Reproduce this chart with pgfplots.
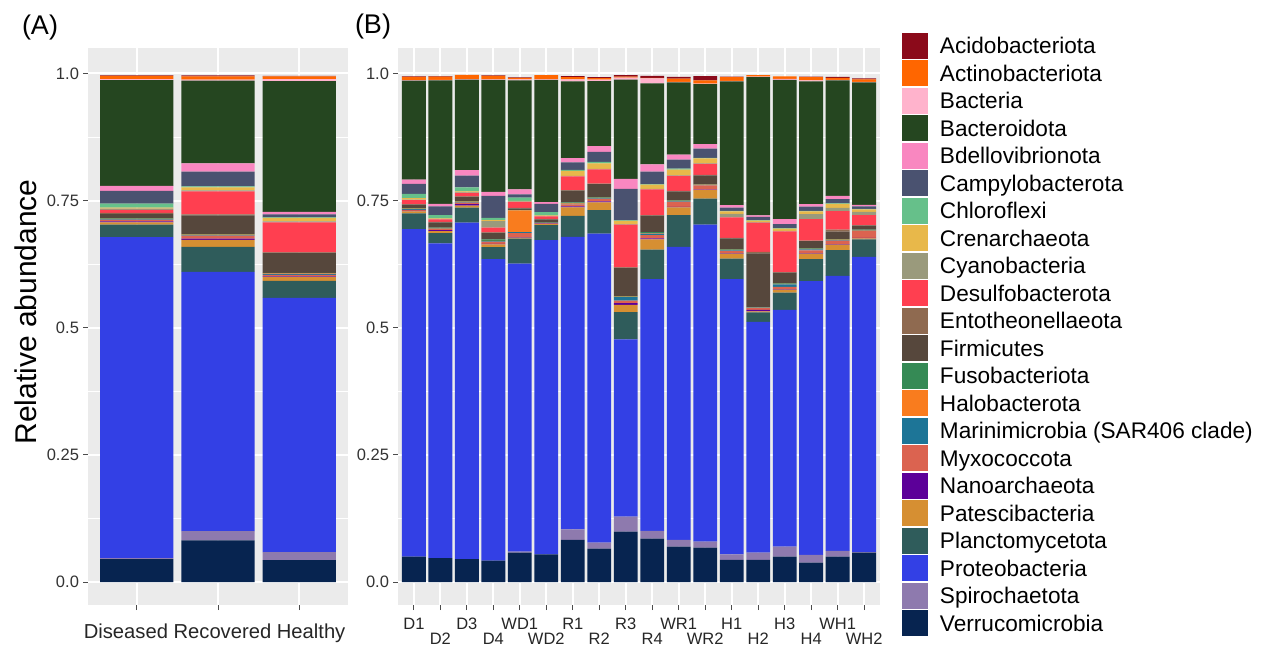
\documentclass[border=0pt]{standalone}
\usepackage{fontspec}
\setmainfont{Liberation Sans}
\usepackage{pgfplots}
\usepackage{pgfplotstable}
\pgfplotsset{compat=1.18}

\definecolor{ggbg}{HTML}{EBEBEB}
\definecolor{cAcid}{HTML}{8B0A1A}
\definecolor{cActi}{HTML}{FF6600}
\definecolor{cBact}{HTML}{FFB3CC}
\definecolor{cBacd}{HTML}{254620}
\definecolor{cBdel}{HTML}{F987C0}
\definecolor{cCamp}{HTML}{4A5270}
\definecolor{cChlo}{HTML}{66C08A}
\definecolor{cCren}{HTML}{E8B84A}
\definecolor{cCyan}{HTML}{9A9A7C}
\definecolor{cDesu}{HTML}{FF3F50}
\definecolor{cEnto}{HTML}{8F6A50}
\definecolor{cFirm}{HTML}{56473C}
\definecolor{cFuso}{HTML}{358A55}
\definecolor{cHalo}{HTML}{F97C1E}
\definecolor{cMari}{HTML}{1D7597}
\definecolor{cMyxo}{HTML}{DB6350}
\definecolor{cNano}{HTML}{5C0099}
\definecolor{cPate}{HTML}{D68F32}
\definecolor{cPlan}{HTML}{2F5C5B}
\definecolor{cProt}{HTML}{3340E5}
\definecolor{cSpir}{HTML}{8E7AAE}
\definecolor{cVerr}{HTML}{072450}

% Panel A: 1 Diseased, 2 Recovered, 3 Healthy
\pgfplotstableread{
x Verr Spir Prot Plan Pate Nano Myxo Mari Halo Fuso Firm Ento Desu Cyan Cren Chlo Camp Bdel Bacd Bact Acti Acid
1 0.045 0.002 0.631 0.025 0.004 0.002 0.003 0.001 0.001 0.001 0.009 0.002 0.006 0.002 0.002 0.008 0.025 0.010 0.208 0.002 0.006 0.001
2 0.082 0.018 0.510 0.049 0.014 0.002 0.006 0.001 0.001 0.001 0.037 0.002 0.045 0.002 0.006 0.002 0.029 0.016 0.163 0.002 0.006 0.002
3 0.043 0.016 0.500 0.033 0.008 0.001 0.003 0.002 0.001 0.001 0.039 0.001 0.059 0.002 0.007 0.001 0.006 0.005 0.257 0.004 0.005 0.001
}\dataA

% Panel B: D1 D2 D3 D4 WD1 WD2 R1 R2 R3 R4 WR1 WR2 H1 H2 H3 H4 WH1 WH2
\pgfplotstableread{
x Verr Spir Prot Plan Pate Nano Myxo Mari Halo Fuso Firm Ento Desu Cyan Cren Chlo Camp Bdel Bacd Bact Acti Acid
1 0.050 0.000 0.644 0.031 0.004 0.001 0.002 0.001 0.001 0.001 0.007 0.001 0.008 0.001 0.003 0.008 0.020 0.008 0.195 0.001 0.006 0.001
2 0.047 0.000 0.619 0.020 0.004 0.002 0.002 0.001 0.001 0.001 0.010 0.001 0.005 0.001 0.001 0.0065 0.017 0.005 0.243 0.001 0.006 0.001
3 0.045 0.000 0.6615 0.0295 0.004 0.003 0.003 0.001 0.001 0.001 0.0085 0.001 0.0065 0.001 0.002 0.008 0.023 0.011 0.178 0.001 0.008 0.000
4 0.042 0.000 0.5927 0.024 0.005 0.001 0.004 0.001 0.001 0.003 0.013 0.001 0.009 0.013 0.002 0.0045 0.043 0.008 0.220 0.001 0.007 0.001
5 0.058 0.002 0.566 0.049 0.002 0.001 0.008 0.002 0.0426 0.001 0.003 0.001 0.012 0.001 0.001 0.006 0.0065 0.010 0.214 0.002 0.003 0.001
6 0.0546 0.000 0.6177 0.0295 0.002 0.001 0.001 0.000 0.000 0.001 0.0065 0.001 0.0045 0.001 0.001 0.0065 0.0165 0.003 0.2404 0.001 0.0085 0.000
7 0.083 0.0208 0.575 0.0413 0.0165 0.002 0.004 0.001 0.001 0.002 0.023 0.001 0.027 0.001 0.010 0.002 0.0144 0.0085 0.151 0.004 0.004 0.002
8 0.0658 0.0118 0.6077 0.046 0.015 0.002 0.005 0.001 0.001 0.001 0.026 0.001 0.028 0.001 0.011 0.003 0.0196 0.011 0.128 0.003 0.003 0.002
9 0.0992 0.0295 0.3484 0.0537 0.0143 0.0035 0.005 0.0065 0.001 0.001 0.0556 0.001 0.084 0.001 0.0065 0.001 0.062 0.0196 0.195 0.004 0.002 0.003
10 0.0855 0.015 0.495 0.058 0.0204 0.002 0.006 0.003 0.001 0.002 0.0327 0.001 0.0505 0.001 0.0085 0.001 0.0242 0.0144 0.1594 0.0098 0.001 0.004
11 0.0697 0.0132 0.5763 0.0623 0.015 0.001 0.0098 0.001 0.001 0.001 0.018 0.001 0.0295 0.001 0.011 0.002 0.0177 0.010 0.142 0.001 0.0065 0.003
12 0.0678 0.0118 0.6234 0.051 0.0164 0.001 0.0085 0.001 0.0005 0.0005 0.0177 0.001 0.0216 0.001 0.0098 0.001 0.0183 0.0085 0.118 0.001 0.0065 0.0085
13 0.0436 0.011 0.541 0.0405 0.0098 0.001 0.004 0.001 0.001 0.001 0.0216 0.001 0.0407 0.0065 0.005 0.001 0.0065 0.005 0.2434 0.001 0.007 0.001
14 0.0436 0.0144 0.4538 0.0183 0.002 0.003 0.0035 0.001 0.0005 0.0005 0.1055 0.003 0.0577 0.001 0.003 0.001 0.006 0.003 0.272 0.001 0.003 0.000
15 0.050 0.0196 0.4656 0.034 0.006 0.001 0.004 0.005 0.001 0.001 0.021 0.001 0.0805 0.001 0.004 0.001 0.0079 0.0098 0.2737 0.002 0.005 0.000
16 0.0383 0.0151 0.5383 0.0432 0.011 0.001 0.005 0.002 0.001 0.001 0.0144 0.001 0.0425 0.0098 0.005 0.001 0.0085 0.005 0.2411 0.002 0.0065 0.001
17 0.050 0.0112 0.5409 0.0505 0.011 0.001 0.0065 0.001 0.001 0.001 0.015 0.004 0.036 0.0065 0.0079 0.001 0.0085 0.0065 0.2266 0.001 0.004 0.002
18 0.058 0.001 0.5802 0.0347 0.002 0.001 0.013 0.001 0.001 0.001 0.0079 0.001 0.0196 0.0065 0.005 0.001 0.0045 0.003 0.241 0.001 0.005 0.002
}\dataB

\pgfplotsset{
  ggpanel/.style={
    scale only axis,
    height=278.5pt,
    ybar stacked,
    bar width=0.9,
    ymin=-0.045, ymax=1.05,
    axis background/.style={fill=ggbg},
    axis lines=left,
    axis line style={draw=none,-},
    ytick={0,0.25,0.5,0.75,1},
    yticklabels={0.0,0.25,0.5,0.75,1.0},
    minor ytick={0.125,0.375,0.625,0.875},
    xmajorgrids, ymajorgrids, yminorgrids,
    major grid style={white, line width=1pt},
    minor grid style={white, line width=0.5pt},
    tick align=outside,
    major tick length=2.5pt,
    minor tick length=0pt,
    tick style={draw=black!70, line width=0.5pt},
    yticklabel style={font=\fontsize{8.25}{9}\selectfont, text=black!80, anchor=east, xshift=1.5pt},
  },
}

\begin{document}
\begin{tikzpicture}
\useasboundingbox (0,0) rectangle (631.5pt,332pt);

\node[font=\fontsize{13.5}{15}\selectfont] at (20pt,318pt) {(A)};
\node[font=\fontsize{13.5}{15}\selectfont] at (186.5pt,318.5pt) {(B)};
\node[font=\fontsize{15}{17}\selectfont, rotate=90] at (13pt,176pt) {Relative abundance};
\node[font=\fontsize{10.1}{12}\selectfont, text=black!85] at (107.3pt,15.5pt) {Diseased Recovered Healthy};

\begin{axis}[ggpanel,
  at={(44pt,29.5pt)}, anchor=south west,
  width=130pt,
  xmin=0.4, xmax=3.6,
  xtick={1,2,3},
  xticklabels={},
]
\pgfplotsinvokeforeach{Verr,Spir,Prot,Plan,Pate,Nano,Myxo,Mari,Halo,Fuso,Firm,Ento,Desu,Cyan,Cren,Chlo,Camp,Bdel,Bacd,Bact,Acti,Acid}{
  \addplot[fill=c#1, draw=none] table[x=x, y=#1] {\dataA};
}
\end{axis}

\begin{axis}[ggpanel,
  at={(199pt,29.5pt)}, anchor=south west,
  width=241pt,
  xmin=0.4, xmax=18.6,
  xtick={1,...,18},
  xticklabels={D1,\raisebox{-7.5pt}{D2},D3,\raisebox{-7.5pt}{D4},WD1,\raisebox{-7.5pt}{WD2},R1,\raisebox{-7.5pt}{R2},R3,\raisebox{-7.5pt}{R4},WR1,\raisebox{-7.5pt}{WR2},H1,\raisebox{-7.5pt}{H2},H3,\raisebox{-7.5pt}{H4},WH1,\raisebox{-7.5pt}{WH2}},
  xticklabel style={font=\fontsize{8.25}{9}\selectfont, text=black!85, anchor=north, text height=6pt, text depth=1.5pt, yshift=0pt},
  reverse legend,
  legend cell align=left,
  legend image code/.code={\fill[#1] (0pt,-6.5pt) rectangle (13pt,6.5pt);},
  legend style={at={(1.0456,1.0287)}, anchor=north west, draw=none, fill=none,
    inner sep=0pt, outer sep=0pt, row sep=0pt,
    font=\fontsize{11.3}{13}\selectfont,
    nodes={inner sep=0pt, text height=10.875pt, text depth=2.875pt},
    /tikz/every odd column/.append style={column sep=6pt}},
  legend entries={Verrucomicrobia,Spirochaetota,Proteobacteria,Planctomycetota,Patescibacteria,Nanoarchaeota,Myxococcota,Marinimicrobia (SAR406 clade),Halobacterota,Fusobacteriota,Firmicutes,Entotheonellaeota,Desulfobacterota,Cyanobacteria,Crenarchaeota,Chloroflexi,Campylobacterota,Bdellovibrionota,Bacteroidota,Bacteria,Actinobacteriota,Acidobacteriota},
]
\pgfplotsinvokeforeach{Verr,Spir,Prot,Plan,Pate,Nano,Myxo,Mari,Halo,Fuso,Firm,Ento,Desu,Cyan,Cren,Chlo,Camp,Bdel,Bacd,Bact,Acti,Acid}{
  \addplot[fill=c#1, draw=none] table[x=x, y=#1] {\dataB};
}
\end{axis}
\end{tikzpicture}
\end{document}
